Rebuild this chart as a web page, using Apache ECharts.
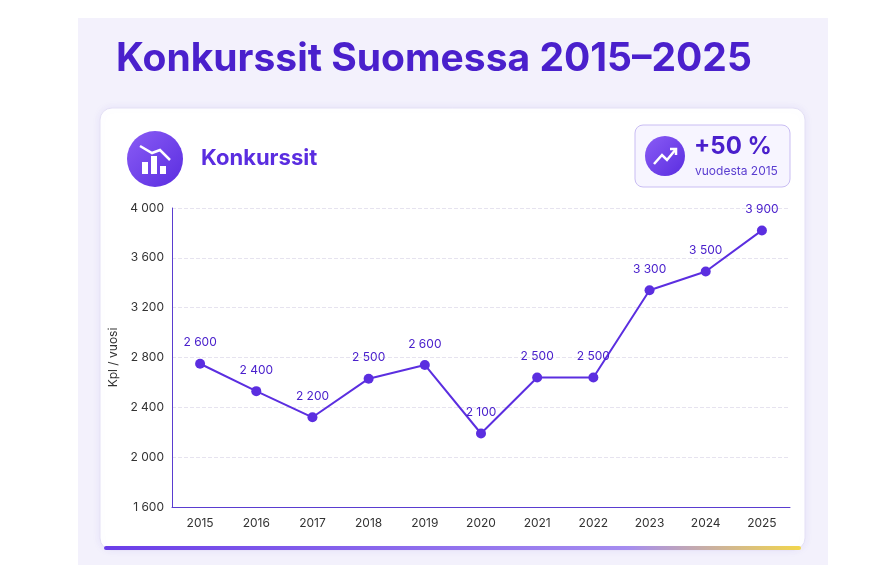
<!DOCTYPE html>
<html><head><meta charset="utf-8">
<script src="https://cdn.jsdelivr.net/npm/echarts@6/dist/echarts.min.js"></script>
<style>html,body{margin:0;padding:0;background:#fff}#c{width:876px;height:584px}</style>
</head><body><div id="c"></div>
<script>
const years = ['2015','2016','2017','2018','2019','2020','2021','2022','2023','2024','2025'];
const values = [2750, 2530, 2320, 2630, 2740, 2190, 2640, 2640, 3340, 3490, 3820];
const labelValues = [2600, 2400, 2200, 2500, 2600, 2100, 2500, 2500, 3300, 3500, 3900];
const yTicks = [1600, 2000, 2400, 2800, 3200, 3600, 4000];
const fmt = v => String(v).replace(/\B(?=(\d{3})+(?!\d))/g, ' ');
const P = '#5b2ee0';
const chart = echarts.init(document.getElementById('c'));
chart.setOption({
  backgroundColor: '#fff',
  textStyle: { fontFamily: 'Inter' },
  graphic: [
    { type: 'rect', shape: { x: 78, y: 18, width: 750, height: 547 }, style: { fill: '#f3f1fc' }, z: -10 },
    { type: 'rect', shape: { x: 100, y: 108, width: 705, height: 442, r: 12 }, style: { fill: '#fff', stroke: '#e4e0f5', lineWidth: 1, shadowBlur: 8, shadowColor: 'rgba(90,60,200,0.08)' }, z: -9 },
    { type: 'rect', shape: { x: 104, y: 546, width: 697, height: 4, r: 2 }, style: { fill: new echarts.graphic.LinearGradient(0,0,1,0,[{offset:0,color:'#6a3de8'},{offset:0.75,color:'#a58cf0'},{offset:1,color:'#f2d64b'}]) }, z: -8 },
    { type: 'text', left: 116, top: 40, style: { text: 'Konkurssit Suomessa 2015–2025', font: 'bold 39px Inter', fill: '#4a20cc' } },
    { type: 'circle', shape: { cx: 155, cy: 159, r: 28 }, style: { fill: new echarts.graphic.LinearGradient(0,0,1,1,[{offset:0,color:'#8a5cf5'},{offset:1,color:'#5a2de0'}]) } },
    { type: 'rect', shape: { x: 142, y: 162, width: 6, height: 12 }, style: { fill: '#fff' } },
    { type: 'rect', shape: { x: 151, y: 156, width: 6, height: 18 }, style: { fill: '#fff' } },
    { type: 'rect', shape: { x: 160, y: 166, width: 6, height: 8 }, style: { fill: '#fff' } },
    { type: 'polyline', shape: { points: [[140,146],[152,153],[160,150],[170,160]] }, style: { stroke: '#fff', lineWidth: 2.5, fill: null } },
    { type: 'text', left: 201, top: 147, style: { text: 'Konkurssit', font: 'bold 22px Inter', fill: '#5a2de0' } },
    { type: 'rect', shape: { x: 635, y: 125, width: 155, height: 62, r: 8 }, style: { fill: '#f7f5ff', stroke: '#c9bdf3', lineWidth: 1 } },
    { type: 'circle', shape: { cx: 665, cy: 156, r: 20 }, style: { fill: new echarts.graphic.LinearGradient(0,0,1,1,[{offset:0,color:'#8a5cf5'},{offset:1,color:'#5a2de0'}]) } },
    { type: 'polyline', shape: { points: [[654,164],[662,155],[667,160],[676,149]] }, style: { stroke: '#fff', lineWidth: 2.5, fill: null } },
    { type: 'polyline', shape: { points: [[670,149],[676,149],[676,155]] }, style: { stroke: '#fff', lineWidth: 2.5, fill: null } },
    { type: 'text', left: 694, top: 135, style: { text: '+50 %', font: 'bold 24px Inter', fill: '#4a20cc' } },
    { type: 'text', left: 695, top: 165, style: { text: 'vuodesta 2015', font: '12px Inter', fill: '#5a3dd0' } }
  ],
  grid: { left: 172, right: 86, top: 208, bottom: 77 },
  xAxis: {
    type: 'category', data: years, boundaryGap: true,
    axisLine: { lineStyle: { color: '#5a3dd0' } }, axisTick: { show: false },
    axisLabel: { color: '#333', fontSize: 12, margin: 10 }
  },
  yAxis: {
    type: 'value', min: 1600, max: 4000, interval: 400,
    name: 'Kpl / vuosi', nameLocation: 'middle', nameGap: 52, nameRotate: 90,
    nameTextStyle: { color: '#333', fontSize: 12 },
    axisLine: { show: true, lineStyle: { color: '#5a3dd0' } },
    axisLabel: { color: '#333', fontSize: 12, formatter: v => yTicks.includes(v) ? fmt(v) : '' },
    splitLine: { lineStyle: { color: '#e6e3ef', type: 'dashed' } }
  },
  series: [{
    type: 'line', data: values, symbol: 'circle', symbolSize: 10,
    lineStyle: { color: P, width: 2 }, itemStyle: { color: P },
    label: { show: true, position: 'top', distance: 10, color: '#4a20cc', fontSize: 12,
      formatter: p => fmt(labelValues[p.dataIndex]) }
  }]
});
</script></body></html>
